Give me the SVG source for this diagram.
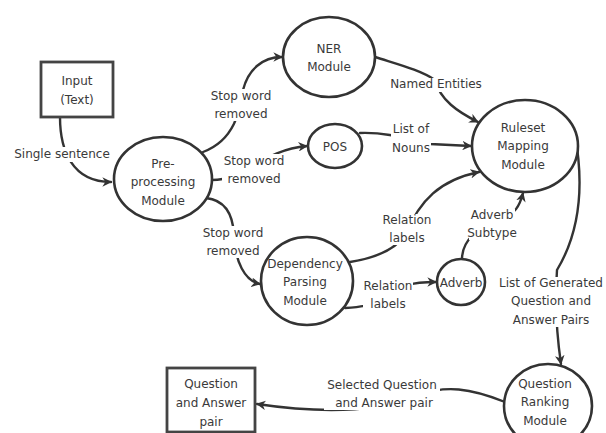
<svg xmlns="http://www.w3.org/2000/svg" width="606" height="433" viewBox="0 0 606 433">
<defs>
<style>
.n{fill:#fff;stroke:#333;stroke-width:2.6}
.r{fill:#fff;stroke:#444;stroke-width:2.8}
.e{fill:none;stroke:#333;stroke-width:2.4;stroke-linecap:round}
.a{marker-end:url(#arr)}
.bg{fill:#fff}
text{font-family:"DejaVu Sans",Verdana,sans-serif;font-size:12px;fill:#3a3a3a;text-anchor:middle}
</style>
<marker id="arr" viewBox="0 0 10 10" refX="9" refY="5" markerWidth="4" markerHeight="4" orient="auto" markerUnits="strokeWidth">
<path d="M0,0 L10,5 L0,10 L3,5 z" fill="#333"/>
</marker>
</defs>
<rect width="606" height="433" fill="#fff"/>
<g id="connectors">
<path class="e a" d="M60,117 C60,150 72,182 111,182"/>
<path class="e a" d="M203,152 C235,140 240,110 243,90 C248,70 262,57 282,57"/>
<path class="e a" d="M212,180 C245,180 262,150 307,146"/>
<path class="e a" d="M206,198 C225,200 233,215 234,235 C235,262 245,281 260,284"/>
<path class="e a" d="M375,57 C400,65 420,70 435,80 C440,100 458,112 478,122"/>
<path class="e a" d="M360,133 C390,132 410,140 430,144 L471,146"/>
<path class="e a" d="M350,262 C375,258 395,250 405,235 C420,200 440,180 479,172"/>
<path class="e a" d="M345,308 C360,307 370,306 380,300 C395,285 415,282 436,282"/>
<path class="e a" d="M462,259 C462,240 480,225 500,220 C515,215 520,205 523,193"/>
<path class="e a" d="M575,135 C585,190 578,235 557,270 C555,300 556,330 561,364"/>
<path class="e a" d="M505,402 C470,388 445,385 420,395 C390,410 330,415 257,404"/>
</g>
<g id="labels">
<rect class="bg" x="13" y="147" width="99" height="15"/>
<text x="62" y="158">Single sentence</text>
<rect class="bg" x="209" y="89" width="64" height="32"/>
<text x="241" y="100">Stop word</text>
<text x="241" y="118">removed</text>
<rect class="bg" x="222" y="154" width="64" height="32"/>
<text x="254" y="165">Stop word</text>
<text x="254" y="183">removed</text>
<rect class="bg" x="201" y="226" width="64" height="32"/>
<text x="233" y="237">Stop word</text>
<text x="233" y="255">removed</text>
<rect class="bg" x="389" y="78" width="95" height="14"/>
<text x="436" y="88">Named Entities</text>
<rect class="bg" x="391" y="123" width="40" height="32"/>
<text x="411" y="133">List of</text>
<text x="411" y="152">Nouns</text>
<rect class="bg" x="382" y="214" width="50" height="31"/>
<text x="407" y="224">Relation</text>
<text x="407" y="242">labels</text>
<rect class="bg" x="469" y="209" width="46" height="31"/>
<text x="492" y="219">Adverb</text>
<text x="492" y="237">Subtype</text>
<rect class="bg" x="363" y="280" width="50" height="31"/>
<text x="388" y="290">Relation</text>
<text x="388" y="308">labels</text>
<rect class="bg" x="497" y="277" width="108" height="50"/>
<text x="551" y="287">List of Generated</text>
<text x="551" y="305">Question and</text>
<text x="551" y="324">Answer Pairs</text>
<rect class="bg" x="324" y="379" width="116" height="31"/>
<text x="382" y="389">Selected Question</text>
<text x="384" y="407">and Answer pair</text>
</g>
<g id="input">
<rect class="r" x="41" y="62" width="72" height="55"/>
<text x="77" y="85">Input</text>
<text x="77" y="104">(Text)</text>
</g>
<g id="preprocessing">
<ellipse class="n" cx="163" cy="179" rx="49" ry="42"/>
<text x="163" y="168">Pre-</text>
<text x="163" y="186">processing</text>
<text x="163" y="205">Module</text>
</g>
<g id="ner">
<ellipse class="n" cx="329" cy="57" rx="46" ry="40"/>
<text x="329" y="53">NER</text>
<text x="329" y="71">Module</text>
</g>
<g id="pos">
<ellipse class="n" cx="335" cy="146" rx="27" ry="22"/>
<text x="335" y="151">POS</text>
</g>
<g id="ruleset">
<ellipse class="n" cx="525" cy="146" rx="53" ry="46"/>
<text x="523" y="132">Ruleset</text>
<text x="523" y="150">Mapping</text>
<text x="523" y="169">Module</text>
</g>
<g id="dependency">
<ellipse class="n" cx="307" cy="281" rx="46" ry="44"/>
<text x="305" y="268">Dependency</text>
<text x="305" y="286">Parsing</text>
<text x="305" y="305">Module</text>
</g>
<g id="adverb">
<ellipse class="n" cx="461" cy="282" rx="24" ry="23"/>
<text x="461" y="287">Adverb</text>
</g>
<g id="ranking">
<ellipse class="n" cx="548" cy="406" rx="44" ry="42"/>
<text x="545" y="388">Question</text>
<text x="545" y="406">Ranking</text>
<text x="545" y="425">Module</text>
</g>
<g id="qapair">
<rect class="r" x="167" y="368" width="88" height="64"/>
<text x="211" y="388">Question</text>
<text x="211" y="407">and Answer</text>
<text x="211" y="426">pair</text>
</g>
</svg>
